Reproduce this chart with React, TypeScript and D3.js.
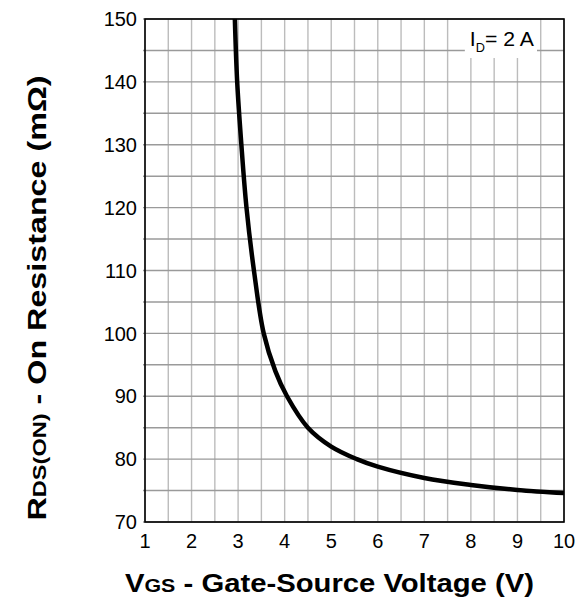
import { useMemo } from 'react';
import * as d3 from 'd3';

// Gate-source voltage (V) vs on resistance (mOhm)
const vgs = [2.93, 2.98, 3.07, 3.18, 3.34, 3.55, 3.8, 4.05, 4.5, 5.0, 5.55, 6.0, 7.0, 8.0, 9.0, 10.0];
const rdsOn = [150, 140, 130, 120, 110, 100, 94, 90, 85, 82, 80, 78.8, 77.0, 75.9, 75.1, 74.6];

const xTicks = [1, 2, 3, 4, 5, 6, 7, 8, 9, 10];
const yTicks = [70, 80, 90, 100, 110, 120, 130, 140, 150];

const W = 577;
const H = 601;
const plot = { left: 145, right: 564, top: 19, bottom: 522 };

export default function App() {
  const x = useMemo(() => d3.scaleLinear().domain([1, 10]).range([plot.left, plot.right]), []);
  const y = useMemo(() => d3.scaleLinear().domain([70, 150]).range([plot.bottom, plot.top]), []);

  const pts = vgs.map((v, i) => [v, rdsOn[i]] as [number, number]);
  const line = d3
    .line<[number, number]>()
    .x((d) => x(d[0]))
    .y((d) => y(d[1]))
    .curve(d3.curveCatmullRom.alpha(0.5));

  const vGrid = d3.range(1, 10.01, 0.5);
  const hGrid = d3.range(70, 150.01, 5);
  const [x0, x1] = x.range();
  const [y0, y1] = y.range();
  const font = 'Arial, "Liberation Sans", sans-serif';

  return (
    <svg
      width={W}
      height={H}
      style={{ position: 'absolute', left: 0, top: 0, display: 'block' }}
      fontFamily={font}
    >
      <defs>
        <clipPath id="plot">
          <rect x={x0} y={y1} width={x1 - x0} height={y0 - y1} />
        </clipPath>
      </defs>
      {vGrid.map((v) => (
        <line key={'v' + v} x1={x(v)} x2={x(v)} y1={y1} y2={y0} stroke="#bcbcbc" strokeWidth={1.4} />
      ))}
      {hGrid.map((r) => (
        <line key={'h' + r} x1={x0 - 2} x2={x1} y1={y(r)} y2={y(r)} stroke="#9a9a9a" strokeWidth={1.4} />
      ))}
      {/* legend box */}
      <rect x={x(7.87)} y={y1 + 1} width={x(9.42) - x(7.87)} height={38} fill="#fff" />
      <text x={x(7.87) + 5} y={y1 + 27} fontSize={20} fill="#000" textLength={64} lengthAdjust="spacingAndGlyphs">
        I<tspan fontSize={12} dy={6}>D</tspan>
        <tspan dy={-6}>= 2 A</tspan>
      </text>
      <rect x={x0} y={y1} width={x1 - x0} height={y0 - y1} fill="none" stroke="#000" strokeWidth={1.6} />
      <path d={line(pts) ?? ''} fill="none" stroke="#000" strokeWidth={4.5} clipPath="url(#plot)" />
      {yTicks.map((t) => (
        <text key={'yt' + t} x={x0 - 8} y={y(t)} dy="0.36em" textAnchor="end" fontSize={20}>
          {t}
        </text>
      ))}
      {xTicks.map((t) => (
        <text key={'xt' + t} x={x(t)} y={y0 + 26} textAnchor="middle" fontSize={20}>
          {t}
        </text>
      ))}
      <text
        x={329.5}
        y={592}
        textAnchor="middle"
        fontSize={26}
        fontWeight="bold"
        textLength={409}
        lengthAdjust="spacingAndGlyphs"
      >
        V<tspan fontSize={19}>GS</tspan>
        <tspan> - Gate-Source Voltage (V)</tspan>
      </text>
      <text
        transform={`translate(${46},${298}) rotate(-90)`}
        textAnchor="middle"
        fontSize={26}
        fontWeight="bold"
        textLength={445}
        lengthAdjust="spacingAndGlyphs"
      >
        R<tspan fontSize={19}>DS(ON)</tspan>
        <tspan> - On Resistance (mΩ)</tspan>
      </text>
    </svg>
  );
}
